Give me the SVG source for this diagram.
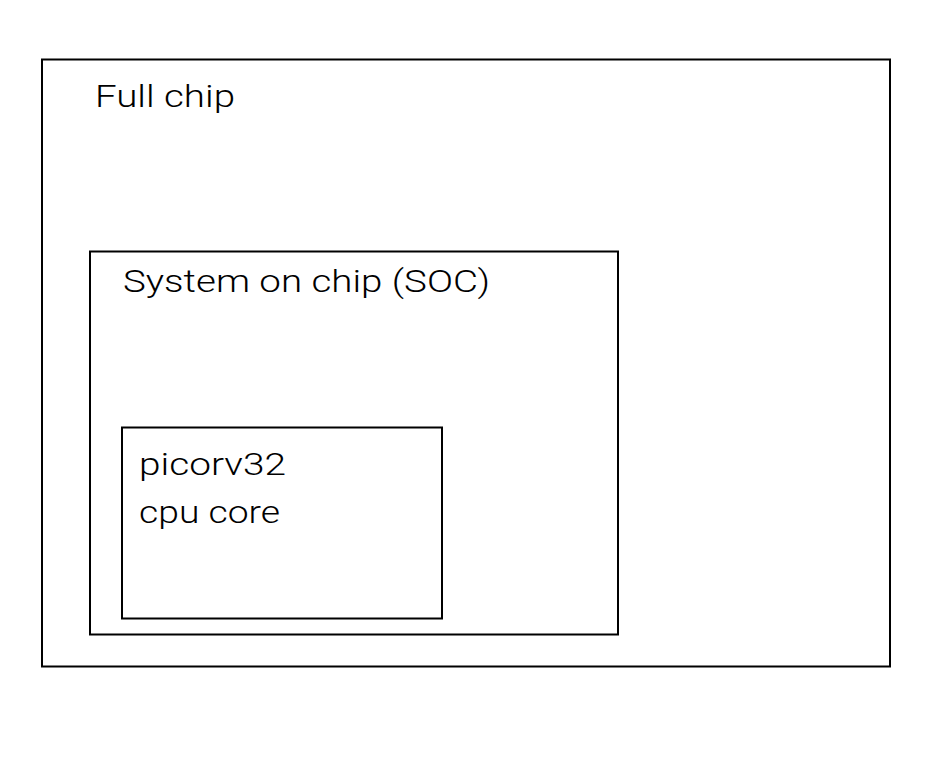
<svg xmlns="http://www.w3.org/2000/svg" width="939" height="758" viewBox="0 0 939 758">
<style>
.box{fill:none;stroke:#000;stroke-width:2}
.lbl{font-family:Roboto,"Liberation Sans",Arial,sans-serif;font-size:32px;font-weight:300;fill:#000}
</style>
<rect width="939" height="758" fill="#fff"/>
<g id="full-chip">
<rect class="box" x="42" y="59.5" width="848" height="607"/>
<text class="lbl" x="95" y="107" textLength="140" lengthAdjust="spacingAndGlyphs">Full chip</text>
</g>
<g id="soc">
<rect class="box" x="90" y="251.5" width="528" height="383"/>
<text class="lbl" x="123" y="292" textLength="367" lengthAdjust="spacingAndGlyphs">System on chip (SOC)</text>
</g>
<g id="cpu-core">
<rect class="box" x="122" y="427.5" width="320" height="191"/>
<text class="lbl" x="139" y="475" textLength="147" lengthAdjust="spacingAndGlyphs">picorv32</text>
<text class="lbl" x="139" y="523" textLength="141" lengthAdjust="spacingAndGlyphs">cpu core</text>
</g>
<g id="connectors"/>
</svg>
